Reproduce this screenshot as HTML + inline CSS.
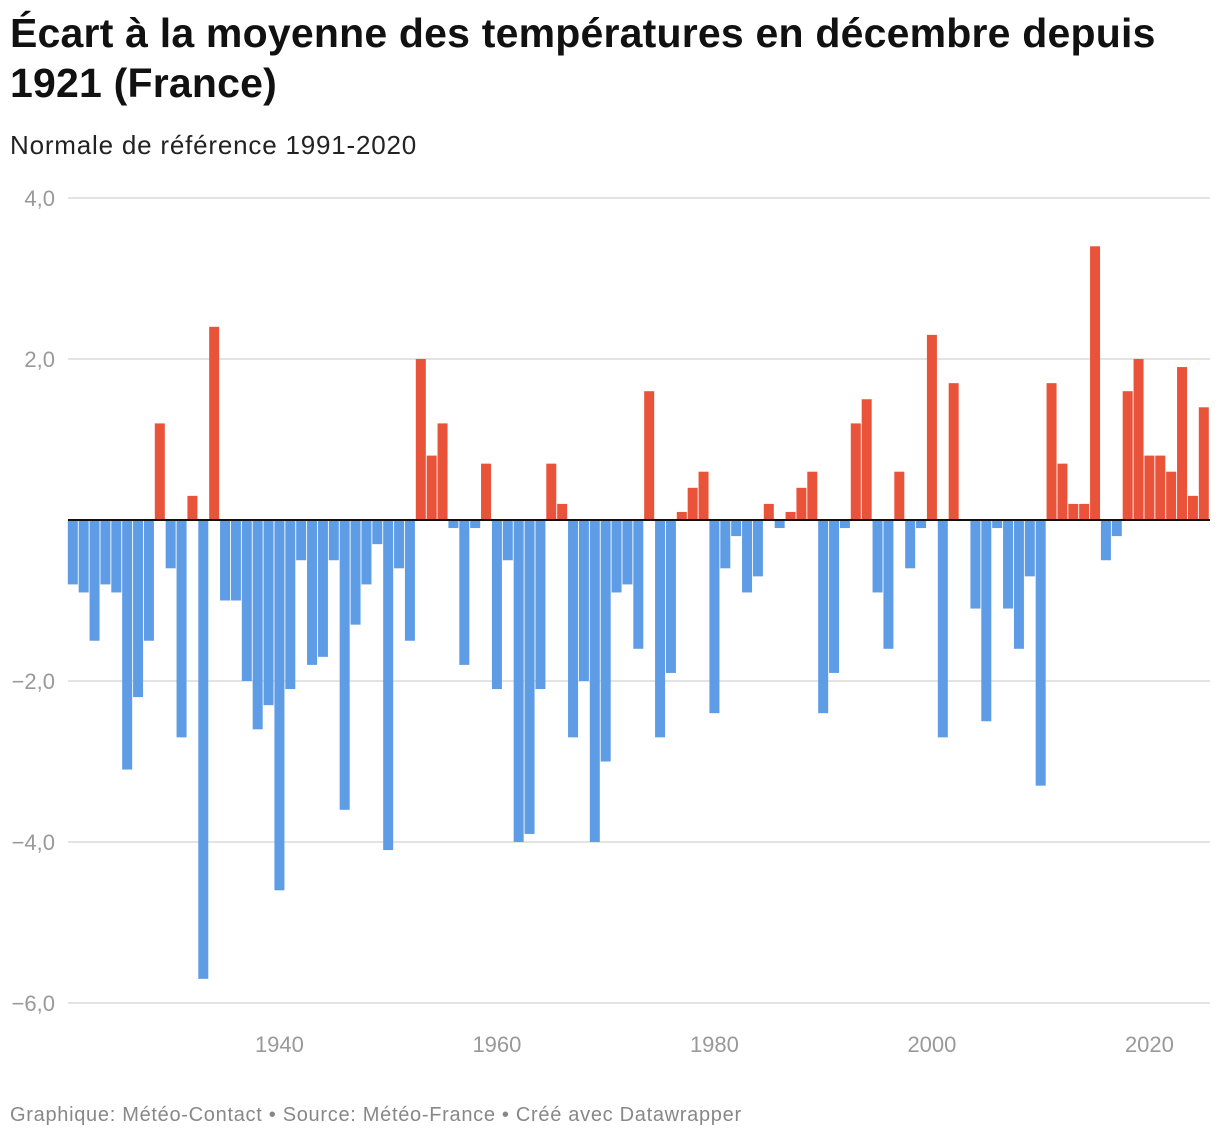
<!DOCTYPE html>
<html><head><meta charset="utf-8">
<style>
body{margin:0;background:#fff;width:1220px;height:1142px;overflow:hidden;font-family:"Liberation Sans",sans-serif}
h1{position:absolute;left:10px;top:8px;margin:0;font-size:41px;line-height:50px;font-weight:bold;color:#111;letter-spacing:0.2px;width:1210px}
.sub{position:absolute;left:10px;top:130px;font-size:26px;color:#222;letter-spacing:0.8px}
.foot{position:absolute;left:10px;top:1104px;font-size:20px;color:#888;letter-spacing:0.7px}
svg{position:absolute;left:0;top:0}
</style></head><body>
<h1>Écart à la moyenne des températures en décembre depuis 1921 (France)</h1>
<div class="sub">Normale de référence 1991-2020</div>
<svg id="chart" width="1220" height="1142"></svg>
<div class="foot">Graphique: Météo-Contact • Source: Météo-France • Créé avec Datawrapper</div>
<script>
const startYear = 1921;
const values = [-0.8,-0.9,-1.5,-0.8,-0.9,-3.1,-2.2,-1.5,1.2,-0.6,-2.7,0.3,-5.7,2.4,-1.0,-1.0,-2.0,-2.6,-2.3,-4.6,
-2.1,-0.5,-1.8,-1.7,-0.5,-3.6,-1.3,-0.8,-0.3,-4.1,-0.6,-1.5,2.0,0.8,1.2,-0.1,-1.8,-0.1,0.7,-2.1,
-0.5,-4.0,-3.9,-2.1,0.7,0.2,-2.7,-2.0,-4.0,-3.0,-0.9,-0.8,-1.6,1.6,-2.7,-1.9,0.1,0.4,0.6,-2.4,
-0.6,-0.2,-0.9,-0.7,0.2,-0.1,0.1,0.4,0.6,-2.4,-1.9,-0.1,1.2,1.5,-0.9,-1.6,0.6,-0.6,-0.1,2.3,
-2.7,1.7,0,-1.1,-2.5,-0.1,-1.1,-1.6,-0.7,-3.3,1.7,0.7,0.2,0.2,3.4,-0.5,-0.2,1.6,2.0,0.8,
0.8,0.6,1.9,0.3,1.4];
const yTicks = [4,2,0,-2,-4,-6];
const yTickLabels = ["4,0","2,0","","−2,0","−4,0","−6,0"];
const xTicks = [1940,1960,1980,2000,2020];

const NS="http://www.w3.org/2000/svg";
const svg=document.getElementById('chart');
const xScale=yr=>72.8+(yr-startYear)*10.875;
const yScale=v=>520-v*80.5;
function mk(t,a){const e=document.createElementNS(NS,t);for(const k in a)e.setAttribute(k,a[k]);svg.appendChild(e);return e;}
yTicks.forEach((t,i)=>{
  if(t!==0){const l=mk('line',{x1:68,x2:1210,y1:yScale(t),y2:yScale(t),stroke:'#e3e3e3','stroke-width':2});
  
  }
  const tx=mk('text',{x:55,y:yScale(t)+8,'text-anchor':'end','font-size':22,fill:'#999','font-family':'Liberation Sans, sans-serif'});
  tx.textContent=yTickLabels[i];
  
  
});
values.forEach((v,i)=>{
  const cx=xScale(startYear+i);
  const y0=yScale(Math.max(v,0)),y1=yScale(Math.min(v,0));
  const r=mk('rect',{x:cx-5,y:y0,width:10,height:Math.max(y1-y0,0),fill:v>=0?'#e8533a':'#5e9de5'});
  
  
});
const z=mk('line',{x1:68,x2:1210,y1:yScale(0),y2:yScale(0),stroke:'#111','stroke-width':2});


xTicks.forEach(t=>{
  const tx=mk('text',{x:xScale(t),y:1052,'text-anchor':'middle','font-size':22,fill:'#999','font-family':'Liberation Sans, sans-serif'});
  tx.textContent=t;
  
  
});
</script>
</body></html>
